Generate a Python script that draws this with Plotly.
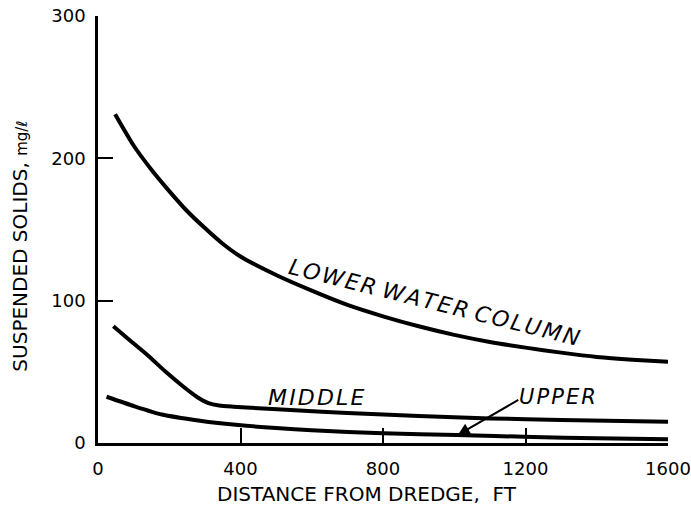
import plotly.graph_objects as go

# Distance from dredge (ft) and suspended solids (mg/l)
lower_x = [48, 100, 150, 200, 250, 300, 350, 400, 500, 600, 700, 800, 900, 1000, 1100, 1200, 1300, 1400, 1500, 1600]
lower_y = [231, 209, 192, 177, 163, 151, 140, 131, 118, 107, 97, 89, 82, 76, 71, 67, 63.5, 60.5, 58.5, 57]

middle_x = [43, 90, 140, 190, 240, 280, 310, 340, 380, 450, 553, 700, 900, 1100, 1300, 1600]
middle_y = [82, 72, 61.5, 50, 39.5, 32, 28, 26.3, 25.5, 24.5, 23, 21, 19, 17.3, 16.2, 15]

upper_x = [24, 100, 179, 286, 394, 500, 600, 800, 1007, 1221, 1400, 1600]
upper_y = [32.5, 26, 20, 15.7, 12.6, 10.5, 9, 6.8, 5.6, 4.2, 3.3, 2.6]

x_ticks = [0, 400, 800, 1200, 1600]
y_ticks = [0, 100, 200, 300]

FONT = "DejaVu Sans"
HS = "\u200a"  # hair space for the wide lettering of the original


def spaced(s):
    return HS.join(list(s))


fig = go.Figure()
for xs, ys in [(lower_x, lower_y), (middle_x, middle_y), (upper_x, upper_y)]:
    fig.add_trace(go.Scatter(x=xs, y=ys, mode="lines",
                             line=dict(color="black", width=4, shape="spline", smoothing=0.6),
                             showlegend=False, hoverinfo="skip"))

axis_common = dict(showline=True, linecolor="black", linewidth=2.5, showgrid=False,
                   zeroline=False, ticks="inside", ticklen=15, tickwidth=2,
                   tickcolor="black", tickfont=dict(size=18), automargin=False,
                   ticklabeloverflow="allow")

fig.update_layout(
    width=691, height=516,
    margin=dict(l=98, r=23, t=16, b=73),
    paper_bgcolor="white", plot_bgcolor="white",
    font=dict(family=FONT, size=18, color="black"),
    xaxis=dict(range=[0, 1600], tickvals=x_ticks, ticktext=[str(v) for v in x_ticks],
               ticklabelstandoff=8, **axis_common),
    yaxis=dict(range=[0, 300], tickvals=y_ticks, ticktext=[str(v) for v in y_ticks],
               ticklabelstandoff=6, **axis_common),
)

ann = []
ann.append(dict(text="DISTANCE FROM DREDGE,&nbsp; FT", xref="paper", yref="paper",
                x=0.472, y=-0.119, xanchor="center", yanchor="middle",
                showarrow=False, font=dict(size=20)))
ann.append(dict(text="SUSPENDED SOLIDS, <span style='font-size:15px'>mg/ℓ</span>",
                xref="paper", yref="paper", x=-0.137, y=0.462, textangle=-90,
                xanchor="center", yanchor="middle",
                showarrow=False, font=dict(size=20)))
ann.append(dict(text=spaced("LOWER") + " " + spaced("WATER") + " " + spaced("COLUMN"),
                x=945, y=99, textangle=14,
                showarrow=False, font=dict(size=22, style="italic")))
ann.append(dict(text=spaced("MIDDLE"), x=612, y=32.3, showarrow=False,
                font=dict(size=22, style="italic")))
ann.append(dict(text=spaced("UPPER"), x=1290, y=32.3, showarrow=False,
                font=dict(size=21, style="italic")))
ann.append(dict(text="", x=1010, y=5.6, ax=62, ay=-36, showarrow=True,
                arrowhead=2, arrowsize=1.2, arrowwidth=2, arrowcolor="black"))
fig.update_layout(annotations=ann)

# remove the browser's default 8px page margin so the 691x516 figure fills the window
fig.write_html("out.html", config={"displayModeBar": False},
               post_script="document.body.style.margin='0';")
